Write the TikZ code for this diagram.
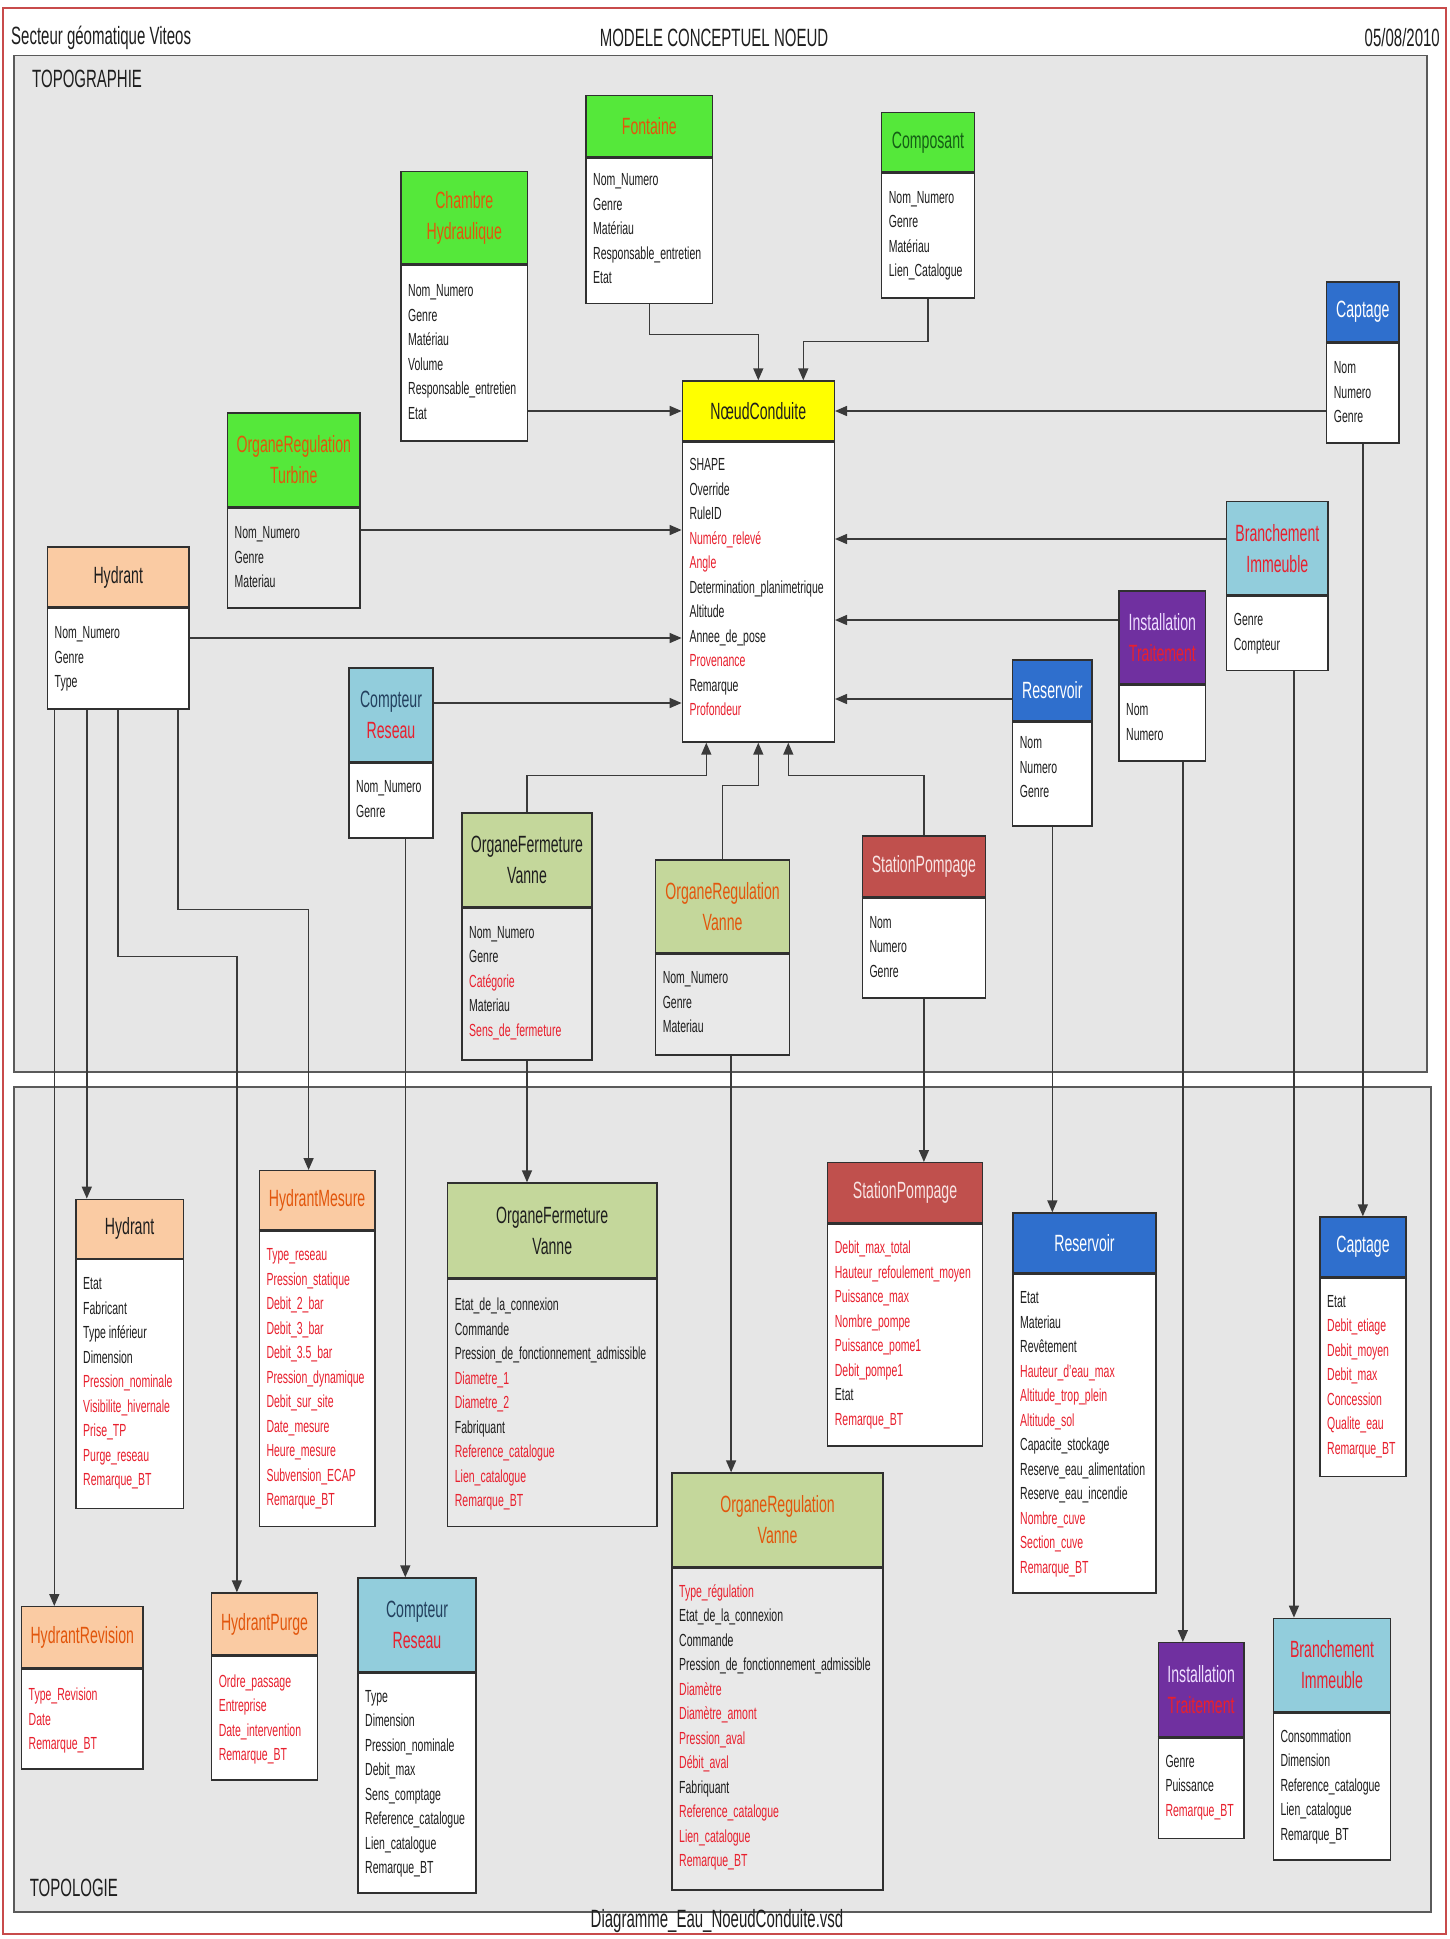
\documentclass[tikz,border=0pt]{standalone}
\usepackage{fontspec}
\setmainfont{Liberation Sans}[FakeStretch=0.6]
\usetikzlibrary{fit,arrows.meta}
\definecolor{panelc}{HTML}{E6E6E6}
\definecolor{paneld}{HTML}{5A5A5A}
\definecolor{framec}{HTML}{C84B4B}
\definecolor{greenh}{HTML}{55E83A}
\definecolor{orangt}{HTML}{E2560C}
\definecolor{dgreent}{HTML}{155E15}
\definecolor{yellowh}{HTML}{FFFF00}
\definecolor{peachh}{HTML}{FACBA3}
\definecolor{lblueh}{HTML}{92CDDC}
\definecolor{oliveh}{HTML}{C4D79B}
\definecolor{stath}{HTML}{C0504D}
\definecolor{statt}{HTML}{F8E4E4}
\definecolor{blueh}{HTML}{2F6FCD}
\definecolor{purpleh}{HTML}{7030A0}
\definecolor{purplet}{HTML}{EEDDFF}
\definecolor{redt}{HTML}{E8202E}
\definecolor{bodyg}{HTML}{E9E9E9}
\definecolor{textc}{HTML}{1E1E1E}
\definecolor{navyt}{HTML}{23405E}
\definecolor{linec}{HTML}{3A3A3A}
\definecolor{boxd}{HTML}{303030}
\tikzset{
 boxbody/.style={draw=boxd, line width=1.4pt, inner sep=0pt},
 boxhead/.style={draw=boxd, line width=1.4pt, inner sep=0pt},
 sepline/.style={draw=boxd, line width=2.6pt},
 ttl/.style={inner sep=0pt, align=center, text=textc, font=\fontsize{23.5}{31}\selectfont},
 attr/.style={inner sep=0pt, anchor=north west, align=left, text=textc, font=\fontsize{17.5}{24.5}\selectfont},
 arr/.style={draw=linec, line width=1.5pt, -{Triangle[length=12pt,width=10pt]}},
 panel/.style={draw=paneld, fill=panelc, line width=1.6pt, inner sep=0pt},
 hdr/.style={inner sep=0pt, text=textc, font=\fontsize{25}{29}\selectfont},
}
\newcommand\R[1]{\textcolor{redt}{#1}}
\newcommand\ubox[8]{%
  \node[boxbody,fill=#8,fit={(#2,#3)(#4,#6)}] (#1) {};
  \node[boxhead,fill=#7,fit={(#2,#3)(#4,#5)}] (#1H) {};
  \draw[sepline] (#1H.south west) -- (#1H.south east);
}
\newcommand\utitle[2]{\node[ttl] (#1T) at (#1H.center) {#2};}
\newcommand\uattr[5][]{\node[attr,#1] (#2A) at (#3+7,#4-8.5) {\rule{0pt}{14pt}#5};}
\begin{document}
\begin{tikzpicture}[x=1pt,y=-1pt]
\useasboundingbox (0,0) rectangle (1449,1939);
\fill[white] (0,0) rectangle (1449,1939);
\node[draw=framec, line width=2pt, inner sep=0pt, fit={(3,8)(1446,1934)}] (frame) {};
\node[panel, fit={(14,55.5)(1427,1071.7)}] (topo) {};
\node[panel, fit={(14,1087)(1431,1911.7)}] (topol) {};
\node[hdr, anchor=west] (hL) at (11,38) {Secteur géomatique Viteos};
\node[hdr] (hC) at (714,38) {MODELE CONCEPTUEL NOEUD};
\node[hdr, anchor=east] (hR) at (1440,38) {05/08/2010};
\node[hdr, anchor=west] (lTopo) at (32,78.5) {TOPOGRAPHIE};
\node[hdr, anchor=west] (lTopol) at (29.6,1888) {TOPOLOGIE};
\node[hdr] (lFile) at (717,1921) {Diagramme\_Eau\_NoeudConduite.vsd};

% ---------- TOPOGRAPHIE ----------
\ubox{fontaine}{586}{95.5}{712.7}{156.7}{303.7}{greenh}{white}
\utitle{fontaine}{\textcolor{orangt}{Fontaine}}
\uattr{fontaine}{586}{180}{Nom\_Numero\\Genre\\Matériau\\Responsable\_entretien\\Etat}

\ubox{composant}{881.7}{112.7}{974.3}{171.8}{298}{greenh}{white}
\utitle{composant}{\textcolor{dgreent}{Composant}}
\uattr{composant}{881.7}{197.5}{Nom\_Numero\\Genre\\Matériau\\Lien\_Catalogue}

\ubox{chambre}{401}{171.5}{527.5}{264}{441}{greenh}{white}
\utitle{chambre}{\textcolor{orangt}{Chambre}\\\textcolor{orangt}{Hydraulique}}
\uattr{chambre}{401}{291}{Nom\_Numero\\Genre\\Matériau\\Volume\\Responsable\_entretien\\Etat}

\ubox{noeud}{682.3}{381}{834.3}{441}{742}{yellowh}{white}
\utitle{noeud}{NœudConduite}
\uattr{noeud}{682.3}{465}{SHAPE\\Override\\RuleID\\\R{Numéro\_relevé}\\\R{Angle}\\Determination\_planimetrique\\Altitude\\Annee\_de\_pose\\\R{Provenance}\\Remarque\\\R{Profondeur}}

\ubox{captage}{1326.7}{282}{1399}{342}{443}{blueh}{white}
\utitle{captage}{\textcolor{white}{Captage}}
\uattr{captage}{1326.7}{368}{Nom\\Numero\\Genre}

\ubox{turbine}{227.5}{413}{360}{507}{608}{greenh}{bodyg}
\utitle{turbine}{\textcolor{orangt}{OrganeRegulation}\\\textcolor{orangt}{Turbine}}
\uattr{turbine}{227.5}{533}{Nom\_Numero\\Genre\\Materiau}

\ubox{hydrant}{47.5}{547}{189}{607}{709}{peachh}{white}
\utitle{hydrant}{Hydrant}
\uattr{hydrant}{47.5}{633}{Nom\_Numero\\Genre\\Type}

\ubox{branchement}{1226.7}{501.6}{1328}{595}{670.7}{lblueh}{white}
\utitle{branchement}{\textcolor{redt}{Branchement}\\\textcolor{redt}{Immeuble}}
\uattr{branchement}{1226.7}{620}{Genre\\Compteur}

\ubox{installation}{1119}{591}{1205.7}{684}{761}{purpleh}{white}
\utitle{installation}{\textcolor{purplet}{Installation}\\\textcolor{redt}{Traitement}}
\uattr{installation}{1119}{710}{Nom\\Numero}

\ubox{reservoir}{1012.7}{660}{1092}{720.5}{826}{blueh}{white}
\utitle{reservoir}{\textcolor{white}{Reservoir}}
\uattr{reservoir}{1012.7}{743}{Nom\\Numero\\Genre}

\ubox{compteur}{349}{668}{433}{762}{838}{lblueh}{white}
\utitle{compteur}{\textcolor{navyt}{Compteur}\\\textcolor{redt}{Reseau}}
\uattr{compteur}{349}{787}{Nom\_Numero\\Genre}

\ubox{ofTop}{462}{813}{592}{906.7}{1060}{oliveh}{bodyg}
\utitle{ofTop}{OrganeFermeture\\Vanne}
\uattr{ofTop}{462}{932.7}{Nom\_Numero\\Genre\\\R{Catégorie}\\Materiau\\\R{Sens\_de\_fermeture}}

\ubox{orTop}{655.6}{860}{789.6}{952.7}{1055}{oliveh}{bodyg}
\utitle{orTop}{\textcolor{orangt}{OrganeRegulation}\\\textcolor{orangt}{Vanne}}
\uattr{orTop}{655.6}{978}{Nom\_Numero\\Genre\\Materiau}

\ubox{spTop}{862.3}{836}{985.5}{897}{998}{stath}{white}
\utitle{spTop}{\textcolor{statt}{StationPompage}}
\uattr{spTop}{862.3}{922.7}{Nom\\Numero\\Genre}

% ---------- TOPOLOGIE ----------
\ubox{hydB}{76}{1199.3}{183.3}{1258.3}{1508.3}{peachh}{white}
\utitle{hydB}{Hydrant}
\uattr{hydB}{76}{1284}{Etat\\Fabricant\\Type inférieur\\Dimension\\\R{Pression\_nominale}\\\R{Visibilite\_hivernale}\\\R{Prise\_TP}\\\R{Purge\_reseau}\\\R{Remarque\_BT}}

\ubox{hmes}{259.3}{1170.7}{375}{1230}{1526.7}{peachh}{white}
\utitle{hmes}{\textcolor{orangt}{HydrantMesure}}
\uattr[text=redt]{hmes}{259.3}{1255}{Type\_reseau\\Pression\_statique\\Debit\_2\_bar\\Debit\_3\_bar\\Debit\_3.5\_bar\\Pression\_dynamique\\Debit\_sur\_site\\Date\_mesure\\Heure\_mesure\\Subvension\_ECAP\\Remarque\_BT}

\ubox{ofB}{447.7}{1183}{656.8}{1278}{1526.7}{oliveh}{bodyg}
\utitle{ofB}{OrganeFermeture\\Vanne}
\uattr{ofB}{447.7}{1305}{Etat\_de\_la\_connexion\\Commande\\Pression\_de\_fonctionnement\_admissible\\\R{Diametre\_1}\\\R{Diametre\_2}\\Fabriquant\\\R{Reference\_catalogue}\\\R{Lien\_catalogue}\\\R{Remarque\_BT}}

\ubox{spB}{827.7}{1162.7}{982.3}{1223}{1446}{stath}{white}
\utitle{spB}{\textcolor{statt}{StationPompage}}
\uattr{spB}{827.7}{1248}{\R{Debit\_max\_total}\\\R{Hauteur\_refoulement\_moyen}\\\R{Puissance\_max}\\\R{Nombre\_pompe}\\\R{Puissance\_pome1}\\\R{Debit\_pompe1}\\Etat\\\R{Remarque\_BT}}

\ubox{resB}{1013}{1213}{1156}{1273}{1593}{blueh}{white}
\utitle{resB}{\textcolor{white}{Reservoir}}
\uattr{resB}{1013}{1298}{Etat\\Materiau\\Revêtement\\\R{Hauteur\_d'eau\_max}\\\R{Altitude\_trop\_plein}\\\R{Altitude\_sol}\\Capacite\_stockage\\Reserve\_eau\_alimentation\\Reserve\_eau\_incendie\\\R{Nombre\_cuve}\\\R{Section\_cuve}\\\R{Remarque\_BT}}

\ubox{capB}{1320}{1217}{1406}{1276.7}{1476.7}{blueh}{white}
\utitle{capB}{\textcolor{white}{Captage}}
\uattr{capB}{1320}{1301.7}{Etat\\\R{Debit\_etiage}\\\R{Debit\_moyen}\\\R{Debit\_max}\\\R{Concession}\\\R{Qualite\_eau}\\\R{Remarque\_BT}}

\ubox{orB}{672}{1473}{883}{1566.7}{1890}{oliveh}{bodyg}
\utitle{orB}{\textcolor{orangt}{OrganeRegulation}\\\textcolor{orangt}{Vanne}}
\uattr{orB}{672}{1591.7}{\R{Type\_régulation}\\Etat\_de\_la\_connexion\\Commande\\Pression\_de\_fonctionnement\_admissible\\\R{Diamètre}\\\R{Diamètre\_amont}\\\R{Pression\_aval}\\\R{Débit\_aval}\\Fabriquant\\\R{Reference\_catalogue}\\\R{Lien\_catalogue}\\\R{Remarque\_BT}}

\ubox{hrev}{21.5}{1606.7}{143}{1668}{1769}{peachh}{white}
\utitle{hrev}{\textcolor{orangt}{HydrantRevision}}
\uattr[text=redt]{hrev}{21.5}{1695}{Type\_Revision\\Date\\Remarque\_BT}

\ubox{hpur}{211.6}{1593}{317.4}{1655}{1780}{peachh}{white}
\utitle{hpur}{\textcolor{orangt}{HydrantPurge}}
\uattr[text=redt]{hpur}{211.6}{1681.7}{Ordre\_passage\\Entreprise\\Date\_intervention\\Remarque\_BT}

\ubox{cptB}{358}{1578}{476}{1671.7}{1893}{lblueh}{white}
\utitle{cptB}{\textcolor{navyt}{Compteur}\\\textcolor{redt}{Reseau}}
\uattr{cptB}{358}{1696.7}{Type\\Dimension\\Pression\_nominale\\Debit\_max\\Sens\_comptage\\Reference\_catalogue\\Lien\_catalogue\\Remarque\_BT}

\ubox{instB}{1158.3}{1642.7}{1244}{1736.7}{1838.3}{purpleh}{white}
\utitle{instB}{\textcolor{purplet}{Installation}\\\textcolor{redt}{Traitement}}
\uattr{instB}{1158.3}{1761.7}{Genre\\Puissance\\\R{Remarque\_BT}}

\ubox{brB}{1273.3}{1618.3}{1390.7}{1711.7}{1860}{lblueh}{white}
\utitle{brB}{\textcolor{redt}{Branchement}\\\textcolor{redt}{Immeuble}}
\uattr{brB}{1273.3}{1736.7}{Consommation\\Dimension\\Reference\_catalogue\\Lien\_catalogue\\Remarque\_BT}

% ---------- connectors into NoeudConduite ----------
\draw[arr] (fontaine.south) -- ++(0,30) -| (noeud.north);
\coordinate (nC) at ([xshift=45pt]noeud.north);
\draw[arr] (composant.south) -- ++(0,43) -| (nC);
\draw[arr] (chambre.east |- noeudH.west) -- (noeudH.west);
\draw[arr] (captage.west |- noeudH.east) -- (noeudH.east);
\coordinate (yTur) at (0,530);
\draw[arr] (turbine.east |- yTur) -- (noeud.west |- yTur);
\coordinate (yHyd) at (0,638);
\draw[arr] (hydrant.east |- yHyd) -- (noeud.west |- yHyd);
\coordinate (yCpt) at (0,703);
\draw[arr] (compteur.east |- yCpt) -- (noeud.west |- yCpt);
\coordinate (yBra) at (0,539);
\draw[arr] (branchement.west |- yBra) -- (noeud.east |- yBra);
\coordinate (yIns) at (0,620);
\draw[arr] (installation.west |- yIns) -- (noeud.east |- yIns);
\coordinate (yRes) at (0,699);
\draw[arr] (reservoir.west |- yRes) -- (noeud.east |- yRes);
\coordinate (nL) at ([xshift=-52pt]noeud.south);
\coordinate (nR) at ([xshift=30pt]noeud.south);
\draw[arr] (ofTop.north) -- ++(0,-37) -| (nL);
\draw[arr] (orTop.north) -- ++(0,-74) -| (noeud.south);
\draw[arr] (spTop.north) -- ++(0,-60) -| (nR);

% ---------- connectors topographie -> topologie ----------
\coordinate (h1) at ([xshift=7.5pt]hydrant.south west);
\draw[arr] (h1) -- (h1 |- hrev.north);
\coordinate (h2) at ([xshift=40pt]hydrant.south west);
\draw[arr] (h2) -- (h2 |- hydB.north);
\coordinate (h3) at ([xshift=71pt]hydrant.south west);
\coordinate (h3p) at ([xshift=26pt]hpur.north west);
\draw[arr] (h3) -- ++(0,246.6) -| (h3p);
\coordinate (h4) at ([xshift=131pt]hydrant.south west);
\coordinate (h4m) at ([xshift=50pt]hmes.north west);
\draw[arr] (h4) -- ++(0,200) -| (h4m);
\coordinate (c1) at ([xshift=57pt]compteur.south west);
\draw[arr] (c1) -- (c1 |- cptB.north);
\draw[arr] (ofTop.south) -- (ofTop.south |- ofB.north);
\coordinate (o1) at ([xshift=8.5pt]orTop.south);
\draw[arr] (o1) -- (o1 |- orB.north);
\draw[arr] (spTop.south) -- (spTop.south |- spB.north);
\draw[arr] (reservoir.south) -- (reservoir.south |- resB.north);
\coordinate (i1) at ([xshift=20.5pt]installation.south);
\draw[arr] (i1) -- (i1 |- instB.north);
\coordinate (b1) at ([xshift=16.6pt]branchement.south);
\draw[arr] (b1) -- (b1 |- brB.north);
\draw[arr] (captage.south) -- (captage.south |- capB.north);
\end{tikzpicture}
\end{document}
